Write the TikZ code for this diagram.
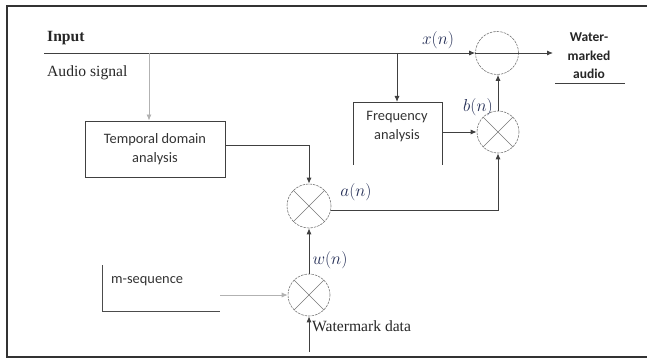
\documentclass[tikz,border=0pt]{standalone}
\usepackage{fontspec}
\setmainfont{Liberation Serif}
\newfontfamily\calib{Carlito}
\usetikzlibrary{arrows.meta,calc}
\definecolor{lblue}{RGB}{35,45,85}
\definecolor{lgray}{RGB}{120,120,120}
\tikzset{
  wire/.style={draw=black!75, line width=0.9pt},
  faint/.style={draw=black!30, line width=0.8pt},
  arr/.style={-{Latex[length=6pt,width=5pt]}},
  mult/.style={circle, draw=lgray, line width=0.6pt, dash pattern=on 2.5pt off 1pt, minimum size=43pt, inner sep=0pt},
  boxlbl/.style={font=\calib\fontsize{14.4}{19}\selectfont, text=black!80, align=center},
  serif/.style={font=\fontsize{15.6}{18}\selectfont, text=black!85},
  mathlbl/.style={font=\fontsize{16}{18}\selectfont, text=lblue, inner sep=0pt},
}
\begin{document}
\begin{tikzpicture}[x=1pt,y=-1pt]
\useasboundingbox (0,0) rectangle (647,358);
% frame
\draw[line width=2pt, draw=black!80] (647,6) -- (7,6) -- (7,356.5) -- (647,356.5);

% texts top left
\node[serif, font=\bfseries\fontsize{15.6}{18}\selectfont, anchor=west, inner sep=0pt] (input) at (47,38) {Input};
\node[serif, anchor=west, inner sep=0pt] (audio) at (47,73) {Audio signal};

% nodes
\node[mult] (add) at (497,53) {};
\node[mult, minimum size=42pt] (mb) at (498,132) {};
\node[mult, minimum size=44pt] (ma) at (309,206) {};
\node[mult, minimum size=42pt] (mw) at (309,295) {};

\foreach \c in {mb,ma,mw}{
  \draw[draw=lgray, line width=0.5pt] (\c.45) -- (\c.225) (\c.135) -- (\c.315);
}
\draw[wire] (add.west) -- (add.east);

\node[draw=black!75, line width=0.9pt, minimum width=140pt, minimum height=56pt, boxlbl] (temp) at (155,149) {Temporal domain\\analysis};
\node[boxlbl] (freq) at (397,127) {Frequency\\analysis};
\draw[wire] (353,165) -- (353,102) -- (442,102) -- (442,165);

\node[font=\calib\bfseries\fontsize{13.5}{18.5}\selectfont, align=center, text=black!85] (out) at (589,56) {Water-\\marked\\audio};
\draw[draw=black!75, line width=0.9pt] (555,83) -- (625,83);

% coordinates
\coordinate (inl) at (44,53);
\coordinate (tap1) at (149,53);
\coordinate (tap2) at (397,53);
\coordinate (outp) at (553,53);
\coordinate (wmd) at (309,352);

% connectors
\draw[wire, arr] (inl) -- (add.west);
\draw[wire, arr] (add.east) -- (outp);
\draw[faint, arr] (tap1) -- (tap1 |- temp.north);
\draw[wire, arr] (tap2) -- (397,102);
\draw[wire, arr] (442,132) -- (mb.west);
\draw[wire, arr] (mb.north) -- (mb.north |- add.south);
\draw[wire, arr] ($(temp.east)+(0,-4)$) -| (ma.north);
\draw[wire, arr] (ma.-12) -- (ma.-12 -| mb.south) -- (mb.south);
\draw[wire, arr] (mw.north) -- (ma.south);
\draw[wire, arr] (wmd) -- (mw.south);

% m-sequence
\draw[draw=black!70, line width=0.9pt] (102,265) -- (102,311) -- (220,311);
\node[boxlbl, anchor=west, inner sep=0pt] (mseq) at (111,281) {m-sequence};
\coordinate (mseqout) at (220,295);
\draw[faint, arr] (mseqout) -- (mw.west);

% labels
\node[mathlbl] (xl) at (438,40) {$x(n)$};
\node[mathlbl] (bl) at (478,107) {$b(n)$};
\node[mathlbl] (al) at (356,192) {$a(n)$};
\node[mathlbl, font=\fontsize{16.5}{18}\selectfont] (wl) at (330,260) {$w(n)$};
\node[serif, anchor=west, inner sep=0pt] (wd) at (312,326) {Watermark data};
\end{tikzpicture}
\end{document}
